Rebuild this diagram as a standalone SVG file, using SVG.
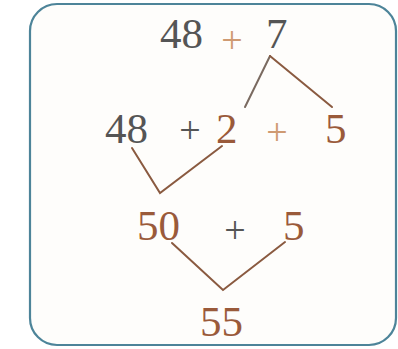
<svg xmlns="http://www.w3.org/2000/svg" width="398" height="349" viewBox="0 0 398 349">
<style>
.n{font-family:"Liberation Serif","Times New Roman",serif;font-size:43px}
.p{font-family:"Liberation Serif","Times New Roman",serif;font-size:38px;text-anchor:middle}
.g{fill:#555555}
.b{fill:#9a5a3a}
.o{fill:#cf9a72}
.c{fill:none;stroke:#8a5a40;stroke-width:2;stroke-linecap:round;stroke-linejoin:miter}
</style>
<rect width="398" height="349" fill="#ffffff"/>
<rect id="frame" x="30" y="4" width="366" height="341" rx="27" ry="27" fill="#fefdfb" stroke="#4d8499" stroke-width="2.2"/>
<g id="connectors">
<polyline class="c" points="245,107 270,56" style="stroke:#7a6a60"/>
<polyline class="c" points="270,56 332,107"/>
<polyline class="c" points="132,148 160,193 222,146"/>
<polyline class="c" points="172,243 223,290 285,242"/>
</g>
<g id="row1">
<text class="n g" x="160" y="48">48</text>
<text class="p o" x="232" y="53">+</text>
<text class="n g" x="266" y="48">7</text>
</g>
<g id="row2">
<text class="n g" x="105" y="143">48</text>
<text class="p g" x="190" y="143">+</text>
<text class="n b" x="216" y="143">2</text>
<text class="p o" x="277" y="145">+</text>
<text class="n b" x="325" y="143">5</text>
</g>
<g id="row3">
<text class="n b" x="137" y="240">50</text>
<text class="p g" x="235" y="243">+</text>
<text class="n b" x="283" y="240">5</text>
</g>
<g id="row4">
<text class="n b" x="200" y="336">55</text>
</g>
</svg>
